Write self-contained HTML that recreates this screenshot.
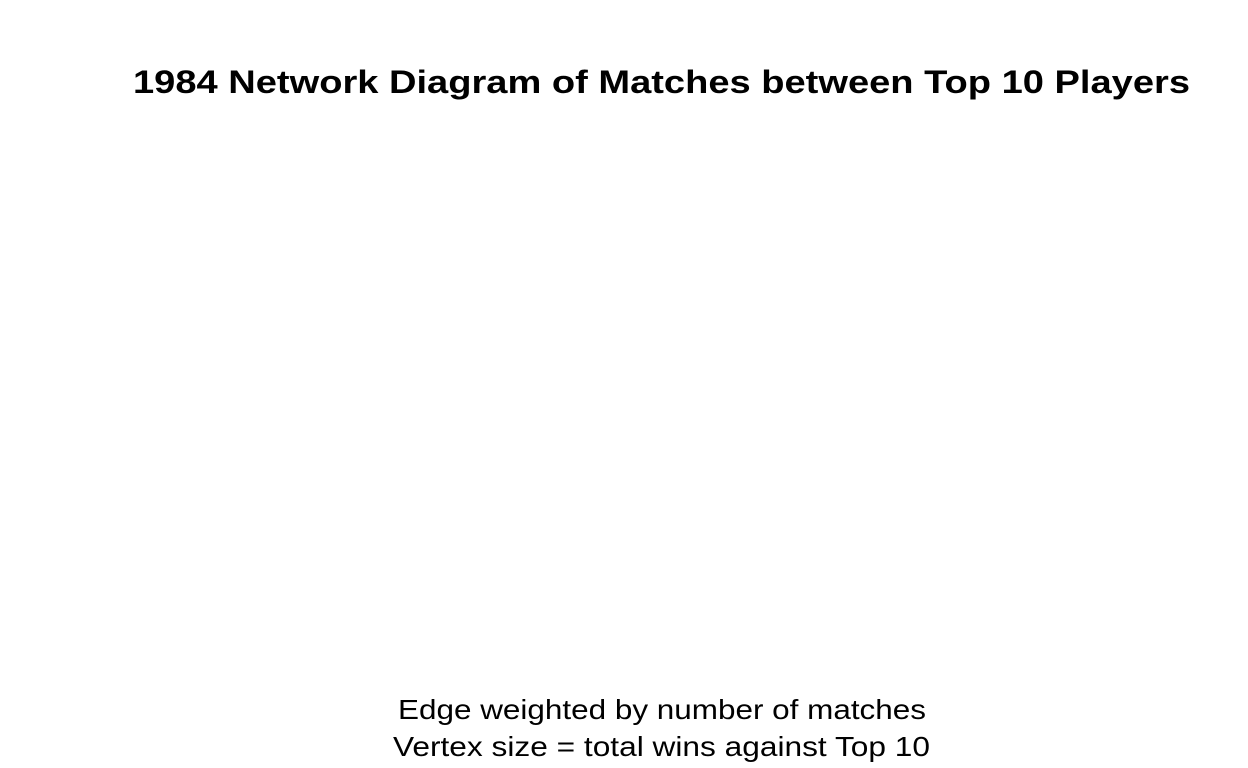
<!DOCTYPE html>
<html><head><meta charset="utf-8"><style>
html,body{margin:0;padding:0;background:#fff;}
svg{display:block;font-family:"Liberation Sans",Arial,sans-serif;}
</style></head><body>
<svg width="1248" height="768" viewBox="0 0 1248 768">
<rect width="1248" height="768" fill="#fff"/>
<text x="661.5" y="93" text-anchor="middle" font-size="32" font-weight="bold" textLength="1057" lengthAdjust="spacingAndGlyphs" fill="#000">1984 Network Diagram of Matches between Top 10 Players</text>
<g id="network"></g>
<text x="662" y="719" text-anchor="middle" font-size="28" textLength="528" lengthAdjust="spacingAndGlyphs" fill="#000">Edge weighted by number of matches</text>
<text x="661.5" y="756" text-anchor="middle" font-size="28" textLength="537" lengthAdjust="spacingAndGlyphs" fill="#000">Vertex size = total wins against Top 10</text>
</svg>
</body></html>
